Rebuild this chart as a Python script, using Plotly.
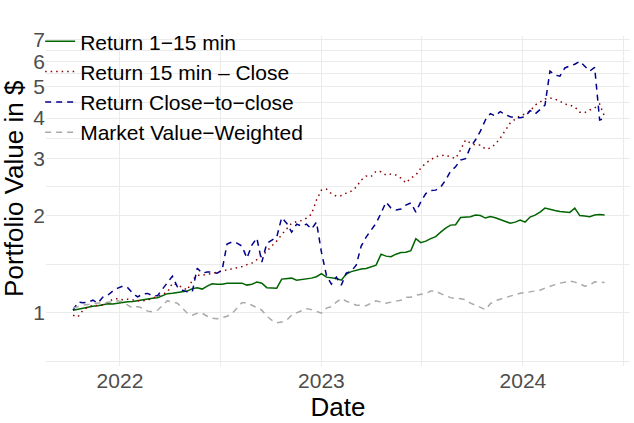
import pandas as pd
import plotly.graph_objects as go

# sampling dates (every 9 days, Oct 2021 - May 2024)
dates = pd.date_range("2021-10-08", periods=108, freq="9D")

ret_1_15 = [1.018, 1.025, 1.033, 1.044, 1.047, 1.051, 1.059, 1.066, 1.063, 1.070,
            1.074, 1.080, 1.082, 1.089, 1.093, 1.105, 1.109, 1.113, 1.129, 1.145,
            1.149, 1.157, 1.161, 1.166, 1.187, 1.195, 1.183, 1.208, 1.229, 1.225,
            1.225, 1.234, 1.234, 1.229, 1.234, 1.217, 1.225, 1.243, 1.234, 1.195,
            1.195, 1.191, 1.270, 1.275, 1.279, 1.261, 1.266, 1.270, 1.279, 1.292,
            1.321, 1.288, 1.284, 1.275, 1.261, 1.316, 1.340, 1.354, 1.364, 1.369,
            1.383, 1.403, 1.517, 1.496, 1.490, 1.517, 1.534, 1.539, 1.556, 1.695,
            1.647, 1.665, 1.695, 1.719, 1.775, 1.827, 1.866, 1.872, 1.969, 1.976,
            1.980, 2.004, 1.997, 1.962, 1.983, 1.966, 1.941, 1.910, 1.892, 1.906,
            1.934, 1.906, 1.976, 2.004, 2.047, 2.107, 2.084, 2.070, 2.055, 2.047,
            2.043, 2.107, 1.997, 1.990, 1.980, 2.004, 2.011, 2.004]

ret_15_close = [0.982, 0.971, 1.018, 1.040, 1.055, 1.051, 1.055, 1.078, 1.101, 1.105,
                1.097, 1.101, 1.093, 1.089, 1.089, 1.093, 1.109, 1.125, 1.141, 1.157,
                1.234, 1.217, 1.199, 1.174, 1.261, 1.306, 1.306, 1.316, 1.321, 1.335,
                1.344, 1.354, 1.364, 1.378, 1.388, 1.408, 1.423, 1.459, 1.496, 1.550,
                1.607, 1.665, 1.744, 1.820, 1.892, 1.913, 1.927, 1.962, 2.018, 2.230,
                2.394, 2.412, 2.335, 2.295, 2.303, 2.343, 2.377, 2.445, 2.572, 2.646,
                2.636, 2.741, 2.730, 2.665, 2.684, 2.665, 2.608, 2.520, 2.608, 2.665,
                2.800, 2.903, 2.980, 3.040, 3.060, 3.074, 3.030, 3.000, 3.185, 3.421,
                3.350, 3.301, 3.301, 3.210, 3.230, 3.320, 3.470, 3.673, 3.860, 3.970,
                4.070, 4.117, 4.200, 4.389, 4.490, 4.580, 4.616, 4.580, 4.510, 4.420,
                4.389, 4.330, 4.170, 4.160, 4.236, 4.300, 4.420, 4.040]

ret_c2c = [1.018, 1.078, 1.074, 1.078, 1.093, 1.070, 1.117, 1.133, 1.166, 1.191,
           1.208, 1.195, 1.149, 1.119, 1.141, 1.147, 1.129, 1.129, 1.183, 1.243,
           1.297, 1.202, 1.174, 1.160, 1.161, 1.373, 1.325, 1.337, 1.337, 1.325,
           1.354, 1.630, 1.655, 1.641, 1.607, 1.475, 1.618, 1.701, 1.433, 1.638,
           1.677, 1.713, 1.969, 1.892, 1.775, 1.879, 1.853, 1.879, 1.814, 1.906,
           1.539, 1.306, 1.225, 1.288, 1.217, 1.325, 1.344, 1.403, 1.607, 1.713,
           1.801, 1.892, 2.032, 2.198, 2.107, 2.077, 2.092, 2.152, 2.186, 2.047,
           2.203, 2.337, 2.385, 2.394, 2.445, 2.572, 2.741, 2.828, 2.966, 2.997,
           3.254, 3.421, 3.647, 3.945, 4.130, 4.059, 4.190, 4.100, 4.040, 4.010,
           4.010, 4.040, 4.220, 4.117, 4.250, 4.389, 5.590, 5.436, 5.390, 5.717,
           5.800, 5.870, 5.990, 5.776, 5.590, 5.740, 3.945, 3.990]

market_vw = [1.033, 1.044, 1.055, 1.059, 1.063, 1.072, 1.070, 1.074, 1.082, 1.088,
             1.080, 1.055, 1.033, 1.044, 1.033, 1.011, 1.007, 1.018, 1.055, 1.089,
             1.078, 1.070, 1.033, 0.996, 0.982, 0.996, 0.996, 0.975, 0.961, 0.958,
             0.965, 0.975, 0.993, 1.033, 1.074, 1.074, 1.055, 1.040, 1.018, 0.975,
             0.948, 0.931, 0.935, 0.948, 0.982, 0.999, 1.011, 1.029, 1.022, 1.006,
             0.996, 1.033, 1.044, 1.078, 1.106, 1.085, 1.070, 1.055, 1.055, 1.051,
             1.070, 1.088, 1.078, 1.070, 1.078, 1.085, 1.093, 1.115, 1.117, 1.133,
             1.141, 1.147, 1.166, 1.166, 1.145, 1.129, 1.113, 1.106, 1.105, 1.097,
             1.070, 1.055, 1.040, 1.022, 1.066, 1.089, 1.101, 1.113, 1.125, 1.137,
             1.149, 1.153, 1.161, 1.170, 1.174, 1.191, 1.208, 1.221, 1.234, 1.243,
             1.252, 1.243, 1.229, 1.208, 1.217, 1.246, 1.243, 1.240]

names = ["Return 1\u221215 min", "Return 15 min \u2013 Close",
         "Return Close\u2212to\u2212close", "Market Value\u2212Weighted"]
colors = ["#006400", "#8B0000", "#00008B", "#A9A9A9"]
dashes = ["solid", "1.5px,4px", "6px,5px", "6px,5px"]

y_major = [1, 2, 3, 4, 5, 6, 7]
y_minor = [0.707, 1.414, 2.449, 3.464, 4.472, 5.477, 6.481]
x_major = ["2022-01-01", "2023-01-01", "2024-01-01"]
x_minor = ["2022-07-02", "2023-07-02", "2024-07-02"]

font = "Liberation Sans, Arial, sans-serif"

fig = go.Figure()
for vals, name, col, dsh in zip([ret_1_15, ret_15_close, ret_c2c, market_vw],
                                names, colors, dashes):
    fig.add_trace(go.Scatter(x=dates, y=vals, mode="lines", name=name,
                             line=dict(color=col, width=1.5, dash=dsh)))

fig.update_layout(
    width=634, height=423,
    margin=dict(l=46, r=4, t=36, b=57, autoexpand=False),
    paper_bgcolor="white", plot_bgcolor="white",
    font=dict(family=font, size=21, color="black"),
    legend=dict(x=-0.01, y=1.045, xanchor="left", yanchor="top",
                bgcolor="rgba(0,0,0,0)", font=dict(size=21, color="black")),
    xaxis=dict(range=["2021-08-20", "2024-07-13"], tickvals=x_major,
               ticktext=["2022", "2023", "2024"], showline=False, zeroline=False,
               gridcolor="#EBEBEB", gridwidth=1.1,
               tickfont=dict(size=21, color="#4D4D4D"),
               minor=dict(tickvals=x_minor, showgrid=True, gridcolor="#EBEBEB", gridwidth=0.6),
               title=dict(text="Date", font=dict(size=26, color="black"), standoff=0)),
    yaxis=dict(type="log", range=[-0.165, 0.856], tickvals=y_major,
               ticktext=[str(v) for v in y_major], showline=False, zeroline=False,
               gridcolor="#EBEBEB", gridwidth=1.1,
               tickfont=dict(size=21, color="#4D4D4D"),
               minor=dict(tickvals=y_minor, showgrid=True, gridcolor="#EBEBEB", gridwidth=0.6)),
    annotations=[dict(text="Portfolio Value in $", textangle=-90, xref="paper", yref="paper",
                      x=-0.054, y=0.538, xanchor="center", yanchor="middle", showarrow=False,
                      font=dict(size=26, color="black"))],
)

# drop the default 8px body margin so the figure fills the window
fig.write_html("out.html", config={"displayModeBar": False},
               post_script="document.body.style.margin='0';")
